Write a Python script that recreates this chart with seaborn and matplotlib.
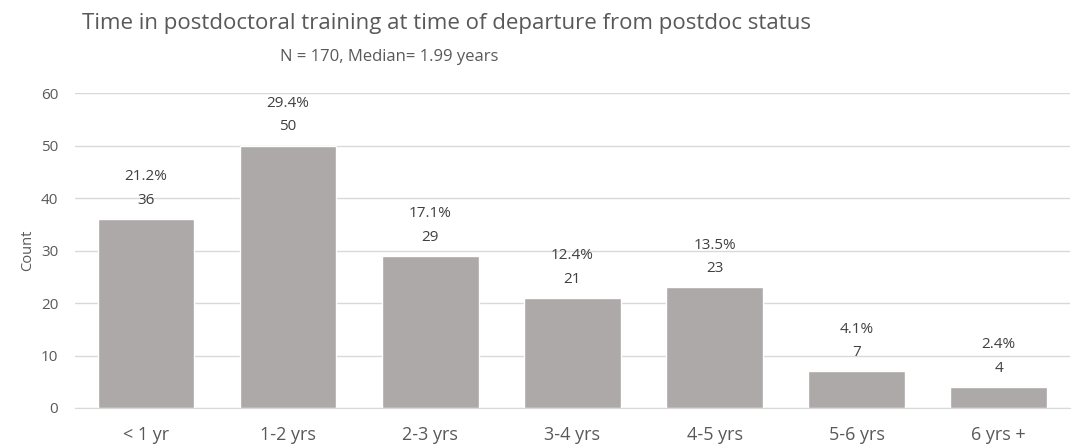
import pandas as pd
import matplotlib.pyplot as plt
import seaborn as sns

sns.set_style("white")
plt.rcParams['font.family'] = ['Open Sans', 'DejaVu Sans']

# Data
categories = ["< 1 yr", "1-2 yrs", "2-3 yrs", "3-4 yrs", "4-5 yrs", "5-6 yrs", "6 yrs +"]
counts = [36, 50, 29, 21, 23, 7, 4]
percents = ["21.2%", "29.4%", "17.1%", "12.4%", "13.5%", "4.1%", "2.4%"]

df = pd.DataFrame({"period": categories, "count": counts})

fig = plt.figure(figsize=(10.79, 4.48), dpi=100)
ax = fig.add_axes([0.0695, 0.0893, 0.922, 0.703])

sns.barplot(data=df, x="period", y="count", color="#ADA9A8", width=0.68,
            saturation=1, ax=ax)

for i, (c, p) in enumerate(zip(counts, percents)):
    ax.annotate(str(c), (i, c), xytext=(0, 8), textcoords="offset points",
                ha="center", va="bottom", fontsize=11, color="#404040")
    ax.annotate(p, (i, c), xytext=(0, 25), textcoords="offset points",
                ha="center", va="bottom", fontsize=11, color="#404040")

ax.set_ylim(0, 60)
ax.set_yticks(range(0, 61, 10))
ax.yaxis.grid(True, color="#D9D9D9", linewidth=1)
ax.set_axisbelow(True)
for s in ["top", "right", "left"]:
    ax.spines[s].set_visible(False)
ax.spines["bottom"].set_color("#D9D9D9")
ax.tick_params(axis="both", length=0, colors="#595959")
ax.tick_params(axis="x", pad=13, labelsize=13)
ax.tick_params(axis="y", pad=12, labelsize=11)
ax.set_xlabel("")
ax.set_ylabel("Count", fontsize=10.5, color="#595959")

fig.text(0.414, 0.948, "Time in postdoctoral training at time of departure from postdoc status",
         ha="center", va="center", fontsize=16, color="#595959")
fig.text(0.361, 0.873, "N = 170, Median= 1.99 years",
         ha="center", va="center", fontsize=12, color="#595959")

plt.savefig("out.png", dpi=100)
